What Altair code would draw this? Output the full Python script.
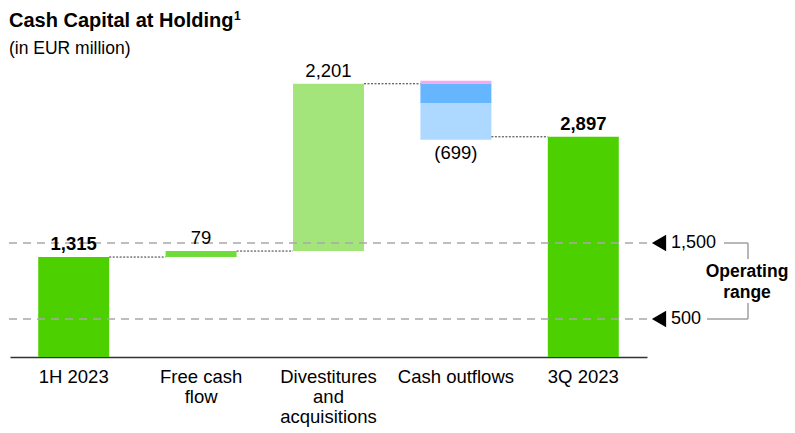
import altair as alt
import pandas as pd

# ---------------- data ----------------
categories = ["1H 2023", "Free cash\nflow", "Divestitures\nand\nacquisitions", "Cash outflows", "3Q 2023"]
start_value = 1315
fcf_value = 79
divest_value = 2201
outflow_parts = [38, -260, -477]          # pink (+), blue, light blue  -> net -699
outflow_label = "(699)"
end_value = 2897
range_levels = [1500, 500]
range_labels = ["1,500", "500"]

C_TOTAL = "#4CD000"
C_FCF = "#70DC3C"
C_DIV = "#A3E57A"
C_OUT = ["#F4A8F0", "#66B5FF", "#ADD8FF"]

FONT = "Liberation Sans"
OX = 10  # left padding

# ---------------- build tables ----------------
rows = []
lvl = start_value
rows.append(dict(cat=categories[0], y0=0, y1=start_value, color=C_TOTAL))
rows.append(dict(cat=categories[1], y0=lvl, y1=lvl + fcf_value, color=C_FCF))
lvl += fcf_value
after_fcf = lvl
rows.append(dict(cat=categories[2], y0=lvl, y1=lvl + divest_value, color=C_DIV))
lvl += divest_value
after_div = lvl
cur = lvl
for v, c in zip(outflow_parts, C_OUT):
    if v > 0:
        rows.append(dict(cat=categories[3], y0=lvl, y1=lvl + v, color=c))
    else:
        rows.append(dict(cat=categories[3], y0=cur, y1=cur + v, color=c))
        cur += v
out_bottom = cur
rows.append(dict(cat=categories[4], y0=0, y1=end_value, color=C_TOTAL))
bars_df = pd.DataFrame(rows)

conn_df = pd.DataFrame(dict(
    a=categories[:4], b=categories[1:],
    y=[start_value, after_fcf, after_div, end_value]))

bold_df = pd.DataFrame(dict(cat=[categories[0], categories[4]],
                            y=[start_value, end_value],
                            t=["1,315", "2,897"]))
norm_df = pd.DataFrame(dict(cat=[categories[1], categories[2]],
                            y=[after_fcf, after_div],
                            t=["79", "2,201"]))
below_df = pd.DataFrame(dict(cat=[categories[3]], y=[out_bottom], t=[outflow_label]))
rng_df = pd.DataFrame(dict(y=range_levels, t=range_labels))

# ---------------- scales ----------------
xscale = alt.Scale(domain=categories, paddingInner=0.443, paddingOuter=0.2215)
yscale = alt.Scale(domain=[0, 4697], nice=False, zero=True)
half_bw = 35.5

X = alt.X("cat:N", scale=xscale, sort=categories,
          axis=alt.Axis(title=None, labelAngle=0, ticks=False, labelFontSize=18.5,
                        labelColor="#000", labelFont=FONT, labelPadding=10,
                        labelLineHeight=20, labelLimit=300,
                        labelExpr="split(datum.label, '\\n')",
                        domainColor="#333", domainWidth=1.3))

bars = alt.Chart(bars_df).mark_bar().encode(
    x=X,
    y=alt.Y("y0:Q", scale=yscale, axis=None),
    y2="y1:Q",
    color=alt.Color("color:N", scale=None),
)

connectors = alt.Chart(conn_df).mark_rule(
    color="#333", strokeWidth=1, strokeDash=[2, 1.5], xOffset=half_bw, x2Offset=-half_bw
).encode(
    x=alt.X("a:N", scale=xscale, sort=categories),
    x2="b:N",
    y=alt.Y("y:Q", scale=yscale),
)

range_rules = alt.Chart(rng_df).mark_rule(
    color="#A8A8A8", strokeWidth=1.5, strokeDash=[8, 6]
).encode(
    x=alt.value(9 - OX), x2=alt.value(648 - OX),
    y=alt.Y("y:Q", scale=yscale),
)

triangles = alt.Chart(rng_df).mark_point(
    shape="triangle-left", filled=True, color="#000", opacity=1, size=270
).encode(
    x=alt.value(659 - OX),
    y=alt.Y("y:Q", scale=yscale),
)

range_text = alt.Chart(rng_df).mark_text(
    align="left", baseline="middle", fontSize=18, font=FONT, color="#000"
).encode(
    x=alt.value(671 - OX),
    y=alt.Y("y:Q", scale=yscale),
    text="t:N",
)

bracket_top = alt.Chart(pd.DataFrame(dict(y=[range_levels[0]]))).mark_rule(
    color="#A0A0A0", strokeWidth=1.5
).encode(x=alt.value(724 - OX), x2=alt.value(748 - OX), y=alt.Y("y:Q", scale=yscale))
bracket_bot = alt.Chart(pd.DataFrame(dict(y=[range_levels[1]]))).mark_rule(
    color="#A0A0A0", strokeWidth=1.5
).encode(x=alt.value(707 - OX), x2=alt.value(748 - OX), y=alt.Y("y:Q", scale=yscale))
bracket_v = alt.Chart(pd.DataFrame(dict(ya=[1500, 710], yb=[1290, 500]))).mark_rule(
    color="#A0A0A0", strokeWidth=1.5
).encode(x=alt.value(748 - OX), y=alt.Y("ya:Q", scale=yscale), y2="yb:Q")

op_text = alt.Chart(pd.DataFrame(dict(t=["Operating\nrange"]))).mark_text(
    align="center", baseline="alphabetic", fontSize=17.5, fontWeight="bold", font=FONT,
    color="#000", lineBreak="\n", lineHeight=21
).encode(x=alt.value(747 - OX), y=alt.value(277), text="t:N")

bold_lbl = alt.Chart(bold_df).mark_text(
    baseline="alphabetic", dy=-7, fontSize=18.5, fontWeight="bold", font=FONT, color="#000"
).encode(x=alt.X("cat:N", scale=xscale, sort=categories),
         y=alt.Y("y:Q", scale=yscale), text="t:N")
norm_lbl = alt.Chart(norm_df).mark_text(
    baseline="alphabetic", dy=-7, fontSize=18.5, font=FONT, color="#000"
).encode(x=alt.X("cat:N", scale=xscale, sort=categories),
         y=alt.Y("y:Q", scale=yscale), text="t:N")
below_lbl = alt.Chart(below_df).mark_text(
    baseline="alphabetic", dy=19.5, fontSize=18.5, font=FONT, color="#000"
).encode(x=alt.X("cat:N", scale=xscale, sort=categories),
         y=alt.Y("y:Q", scale=yscale), text="t:N")

title = alt.Chart(pd.DataFrame(dict(t=["Cash Capital at Holding"]))).mark_text(
    align="left", baseline="alphabetic", fontSize=20, fontWeight="bold", font=FONT, color="#000"
).encode(x=alt.value(9 - OX), y=alt.value(26.5), text="t:N")
sup = alt.Chart(pd.DataFrame(dict(t=["1"]))).mark_text(
    align="left", baseline="alphabetic", fontSize=12, fontWeight="bold", font=FONT, color="#000"
).encode(x=alt.value(234 - OX), y=alt.value(20), text="t:N")
subtitle = alt.Chart(pd.DataFrame(dict(t=["(in EUR million)"]))).mark_text(
    align="left", baseline="alphabetic", fontSize=17.5, font=FONT, color="#000"
).encode(x=alt.value(9 - OX), y=alt.value(54), text="t:N")

chart = alt.layer(
    bars, connectors, range_rules, triangles, range_text,
    bracket_top, bracket_bot, bracket_v, op_text,
    bold_lbl, norm_lbl, below_lbl, title, sup, subtitle
).properties(
    width=637, height=357,
    padding={"left": OX, "top": 0, "right": 148, "bottom": 76},
    autosize=alt.AutoSizeParams(type="none"),
    background="white",
).configure_view(stroke=None).configure_text(font=FONT)

chart.save("out.html", embed_options={"renderer": "svg", "actions": False})
